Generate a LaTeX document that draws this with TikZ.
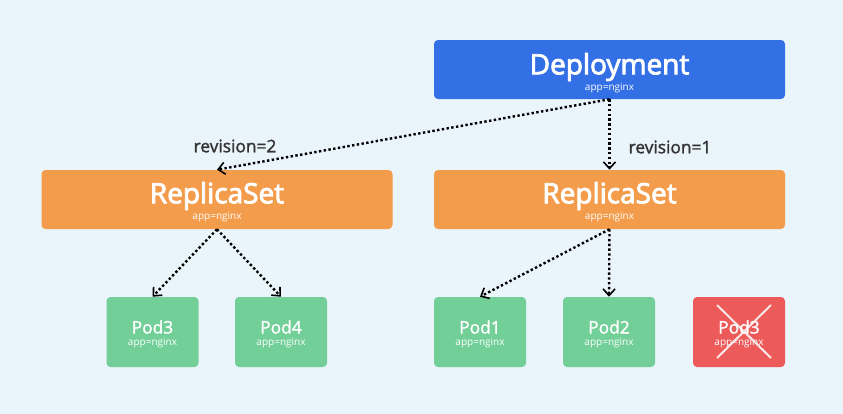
\documentclass[tikz,border=0pt]{standalone}
\usepackage{fontspec}
\setmainfont{Open Sans}
\newfontfamily\mediumfont{Open Sans}[FakeBold=3]
\newfontfamily\lightbold{Open Sans}[FakeBold=1.5]
\usetikzlibrary{arrows.meta}
\definecolor{bgblue}{HTML}{EAF4FB}
\definecolor{deployblue}{HTML}{336FE5}
\definecolor{rsorange}{HTML}{F39C4B}
\definecolor{podgreen}{HTML}{71CF97}
\definecolor{podred}{HTML}{EC5A5A}
\definecolor{labelgray}{HTML}{333333}
\tikzset{
  bigbox/.style={rounded corners=3pt, inner sep=0pt, minimum width=263.25pt, minimum height=44.25pt},
  podbox/.style={rounded corners=3pt, inner sep=0pt, minimum width=69pt, minimum height=52.5pt, fill=podgreen},
  title/.style={text=white, inner sep=0pt, font=\fontsize{21}{21}\mediumfont},
  podtitle/.style={text=white, inner sep=0pt, font=\fontsize{13}{13}\lightbold},
  sub/.style={text=white, inner sep=0pt, font=\fontsize{7.5}{7.5}\selectfont},
  rev/.style={text=labelgray, inner sep=0pt, font=\fontsize{13}{13}\lightbold},
  link/.style={line width=1.8pt, dash pattern=on 1.8pt off 1.8pt, -{Straight Barb[length=5pt, width=9pt, line width=1.2pt]}}
}
\begin{document}
\begin{tikzpicture}[x=0.75pt, y=-0.75pt]
  \fill[bgblue] (0,0) rectangle (843,414);
  % deployment
  \node[bigbox, fill=deployblue] (deploy) at (609.5,69.5) {};
  \node[title] at (609.5,67) {Deployment};
  \node[sub] at (609.5,88) {app=nginx};
  % replica sets
  \node[bigbox, fill=rsorange] (rsold) at (217,199.5) {};
  \node[title] at (217,196) {ReplicaSet};
  \node[sub] at (217,217) {app=nginx};
  \node[bigbox, fill=rsorange] (rsnew) at (609.5,199.5) {};
  \node[title] at (609.5,196) {ReplicaSet};
  \node[sub] at (609.5,217) {app=nginx};
  % pods
  \foreach \name/\lbl/\x in {podc/Pod3/152.5, podd/Pod4/281, poda/Pod1/480, podb/Pod2/609}{
    \node[podbox] (\name) at (\x,332) {};
    \node[podtitle] at (\x,327) {\lbl};
    \node[sub] at (\x,343) {app=nginx};
  }
  \node[podbox, fill=podred] (podx) at (739,332) {};
  \node[podtitle] at (739,327) {Pod3};
  \node[sub] at (739,343) {app=nginx};
  \draw[white, opacity=0.85, line width=1.5pt] (717,305) -- (771,358) (771,305) -- (717,358);
  % links
  \draw[link] (deploy.south) -- (rsold.north);
  \draw[link] (deploy.south) -- (rsnew.north);
  \draw[link] (rsold.south) -- (podc.north);
  \draw[link] (rsold.south) -- (podd.north);
  \draw[link] (rsnew.south) -- (poda.north);
  \draw[link] (rsnew.south) -- (podb.north);
  \node[rev] at (235,146) {revision=2};
  \node[rev] at (670,147) {revision=1};
\end{tikzpicture}
\end{document}
